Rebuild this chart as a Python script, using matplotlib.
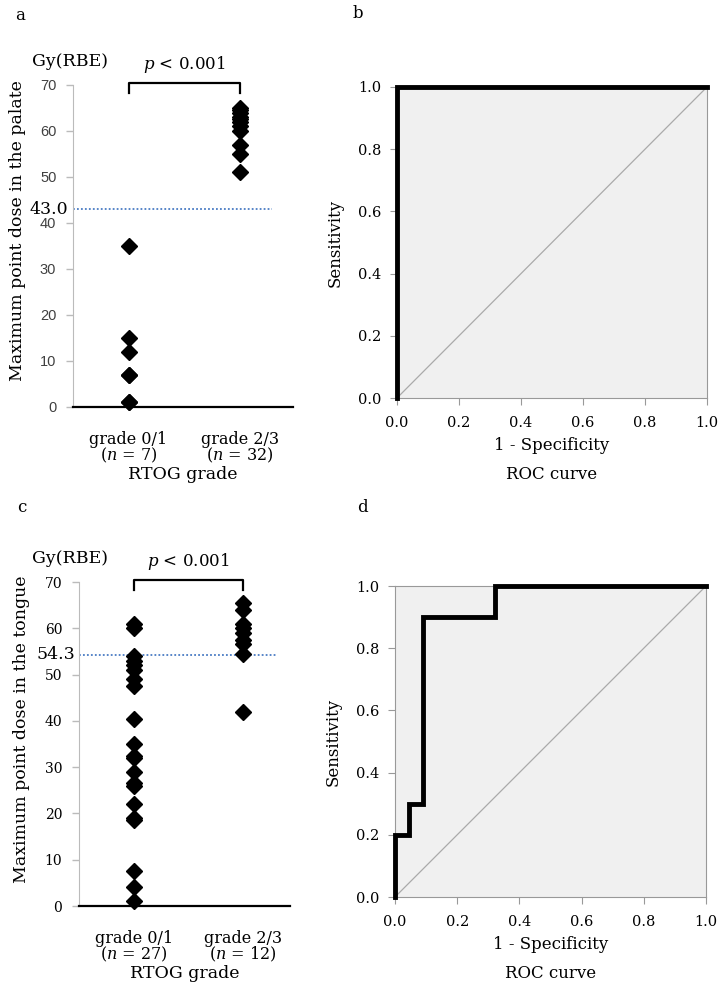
import matplotlib
matplotlib.use('Agg')
import matplotlib.pyplot as plt

plt.rcParams['font.family'] = 'DejaVu Serif'
plt.rcParams['mathtext.fontset'] = 'dejavuserif'

# panel a: palate dose by RTOG grade
palate_low = [35, 15, 12, 7, 1, 1, 7]
palate_high = [65, 64.5, 64, 63, 62.5, 62, 61, 60, 57, 55, 51]
palate_cut = 43.0

# panel c: tongue dose by RTOG grade
tongue_low = [61, 60, 54, 53, 52, 51, 49, 47.5, 40.5, 35, 32.5, 32, 29,
              26.5, 26, 22, 19, 18.5, 7.5, 4, 1]
tongue_high = [65.5, 64, 61, 60, 59, 57.5, 56.5, 54.5, 42]
tongue_cut = 54.3

# ROC curves (1 - specificity, sensitivity)
roc_b_x = [0, 0, 1]
roc_b_y = [0, 1, 1]
roc_d_x = [0, 0, 0.045, 0.045, 0.09, 0.09, 0.32, 0.32, 1]
roc_d_y = [0, 0.2, 0.2, 0.3, 0.3, 0.9, 0.9, 1.0, 1.0]

cat_a = ['grade 0/1\n($n$ = 7)', 'grade 2/3\n($n$ = 32)']
cat_c = ['grade 0/1\n($n$ = 27)', 'grade 2/3\n($n$ = 12)']

W, H = 722, 988
fig = plt.figure(figsize=(W / 100, H / 100), dpi=100)


def px_axes(x0, x1, ytop, ybot):
    return fig.add_axes([x0 / W, (H - ybot) / H, (x1 - x0) / W, (ybot - ytop) / H])


def dose_panel(ax, low, high, cut, cats, xmax, ylabel, sans_ticks, ylab_x, gy_x, cut_end):
    ax.plot([1] * len(low), low, 'D', color='black', ms=8, clip_on=False, zorder=4)
    ax.plot([2] * len(high), high, 'D', color='black', ms=8, clip_on=False, zorder=4)
    ax.set_xlim(0.5, xmax)
    ax.set_ylim(0, 70)
    ax.axhline(cut, xmin=0, xmax=cut_end, color='#4a7cc4', ls=(0, (1, 1.2)), lw=1.3)
    for s in ['top', 'right']:
        ax.spines[s].set_visible(False)
    ax.spines['left'].set_color('#bbbbbb')
    ax.spines['bottom'].set_linewidth(1.6)
    ax.set_yticks(range(0, 71, 10))
    ax.tick_params(axis='y', color='#bbbbbb', length=5, width=1, pad=7)
    if sans_ticks:
        ax.set_yticklabels([str(v) for v in range(0, 71, 10)],
                           family='Liberation Sans', color='#404040', fontsize=10.5)
    else:
        ax.tick_params(axis='y', labelsize=10)
    ax.set_xticks([1, 2])
    ax.set_xticklabels(cats, fontsize=11.5, linespacing=0.85)
    ax.tick_params(axis='x', length=0, pad=17)
    ax.set_xlabel('RTOG grade', fontsize=12.5, labelpad=1)
    ax.set_ylabel(ylabel, fontsize=12.5)
    ax.yaxis.set_label_coords(ylab_x, 0.547)
    ax.text(-0.02, cut, '%.1f' % cut, transform=ax.get_yaxis_transform(),
            ha='right', va='center', fontsize=12.5)
    ax.text(gy_x, 75, 'Gy(RBE)', transform=ax.get_yaxis_transform(),
            ha='center', va='center', fontsize=12.5)
    # significance bracket
    ax.plot([1, 1, 2, 2], [68.2, 70.4, 70.4, 68.2], color='black', lw=1.6, clip_on=False)
    ax.text(1.5, 74.5, '$p$ < 0.001', ha='center', va='center', fontsize=12)


def roc_panel(ax, xs, ys):
    ax.set_facecolor('#f0f0f0')
    ax.plot([0, 1], [0, 1], color='#aaaaaa', lw=0.9)
    ax.plot(xs, ys, color='black', lw=3.5, clip_on=False, solid_joinstyle='miter', zorder=5)
    ax.set_xlim(0, 1)
    ax.set_ylim(0, 1)
    for s in ax.spines.values():
        s.set_color('#999999')
    ticks = [0, 0.2, 0.4, 0.6, 0.8, 1.0]
    ax.set_xticks(ticks)
    ax.set_yticks(ticks)
    ax.set_xticklabels(['%.1f' % t for t in ticks], fontsize=10.5)
    ax.set_yticklabels(['%.1f' % t for t in ticks], fontsize=10.5)
    ax.tick_params(color='#999999', length=5)
    ax.tick_params(axis='x', pad=8)
    ax.tick_params(axis='y', pad=6)
    ax.set_ylabel('Sensitivity', fontsize=12)
    ax.yaxis.set_label_coords(-0.172, 0.5)
    ax.set_xlabel('1 - Specificity', fontsize=12, labelpad=5)
    ax.text(0.5, -0.247, 'ROC curve', transform=ax.transAxes, ha='center',
            va='center', fontsize=12)


ax_a = px_axes(73, 293, 85, 407)
dose_panel(ax_a, palate_low, palate_high, palate_cut, cat_a, 2.48,
           'Maximum point dose in the palate', True, -0.214, -0.014, 0.905)

ax_c = px_axes(79, 290, 582, 906)
dose_panel(ax_c, tongue_low, tongue_high, tongue_cut, cat_c, 2.43,
           'Maximum point dose in the tongue', False, -0.233, -0.043, 0.94)

ax_b = px_axes(397, 707, 87, 398)
roc_panel(ax_b, roc_b_x, roc_b_y)

ax_d = px_axes(395, 706, 586, 897)
roc_panel(ax_d, roc_d_x, roc_d_y)

for lbl, x, y in [('a', 20, 15), ('b', 358, 13), ('c', 22, 508), ('d', 362, 508)]:
    fig.text(x / W, 1 - y / H, lbl, fontsize=12, ha='center', va='center')

fig.savefig('out.png', dpi=100)
